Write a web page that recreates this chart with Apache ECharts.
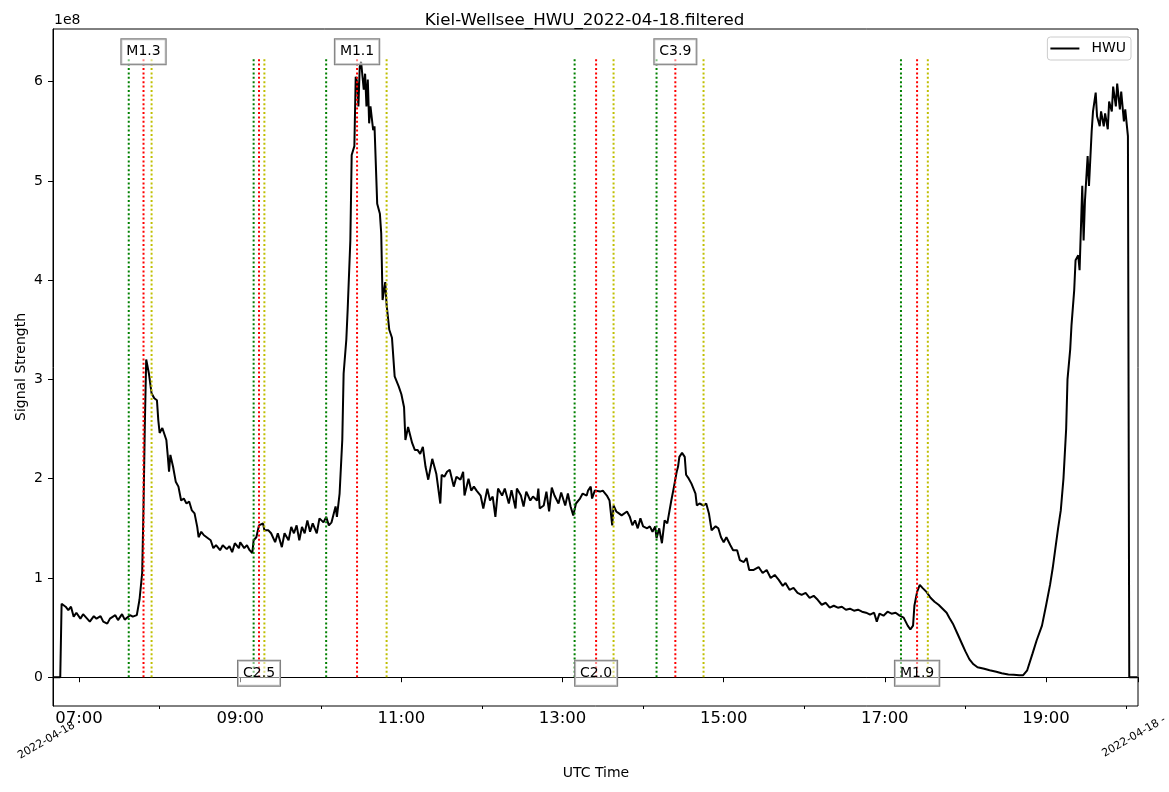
<!DOCTYPE html>
<html><head><meta charset="utf-8">
<script src="https://cdn.jsdelivr.net/npm/echarts@6/dist/echarts.min.js"></script>
<style>html,body{margin:0;padding:0;background:#fff}#c{width:1169px;height:792px}</style>
</head><body><div id="c"></div><script>
// ---- data (signal strength in units of 1e8) ----
const times = ['06:41','06:46','06:47','06:50','06:52','06:54','06:56','06:58','07:01','07:03','07:06','07:08','07:11','07:13','07:16','07:18','07:21','07:23','07:27','07:29','07:32','07:34','07:38','07:40','07:43','07:45','07:47','07:48','07:49','07:50','07:51','07:52','07:54','07:56','07:58','07:59','08:00','08:02','08:03','08:05','08:06','08:07','08:08','08:10','08:12','08:14','08:16','08:18','08:20','08:22','08:24','08:26','08:28','08:29','08:31','08:33','08:36','08:38','08:40','08:42','08:45','08:47','08:50','08:52','08:54','08:56','08:59','09:00','09:03','09:05','09:07','09:09','09:10','09:12','09:14','09:17','09:18','09:21','09:23','09:26','09:28','09:31','09:33','09:36','09:38','09:40','09:42','09:44','09:46','09:48','09:50','09:52','09:54','09:57','09:59','10:02','10:04','10:06','10:08','10:11','10:12','10:14','10:16','10:17','10:19','10:20','10:22','10:23','10:25','10:26','10:27','10:28','10:29','10:30','10:32','10:33','10:34','10:35','10:36','10:37','10:39','10:40','10:42','10:44','10:45','10:46','10:48','10:49','10:51','10:53','10:55','10:58','11:00','11:02','11:03','11:05','11:06','11:08','11:10','11:12','11:14','11:16','11:18','11:20','11:23','11:24','11:26','11:29','11:30','11:32','11:34','11:36','11:39','11:41','11:44','11:46','11:47','11:50','11:52','11:54','11:56','11:59','12:01','12:04','12:06','12:08','12:10','12:12','12:15','12:17','12:20','12:22','12:25','12:26','12:29','12:31','12:33','12:36','12:38','12:41','12:42','12:43','12:46','12:48','12:50','12:52','12:54','12:57','12:59','13:02','13:04','13:06','13:08','13:10','13:13','13:15','13:18','13:19','13:21','13:22','13:24','13:28','13:30','13:33','13:35','13:37','13:38','13:40','13:42','13:44','13:48','13:50','13:52','13:54','13:56','13:58','14:00','14:03','14:05','14:07','14:09','14:10','14:12','14:14','14:16','14:18','14:19','14:21','14:23','14:25','14:26','14:27','14:29','14:31','14:32','14:34','14:36','14:39','14:40','14:42','14:45','14:47','14:49','14:51','14:54','14:56','14:58','15:00','15:02','15:05','15:07','15:10','15:12','15:15','15:17','15:19','15:22','15:26','15:29','15:32','15:35','15:38','15:41','15:44','15:46','15:49','15:52','15:55','15:58','16:01','16:04','16:07','16:10','16:13','16:16','16:19','16:22','16:25','16:28','16:31','16:34','16:37','16:40','16:43','16:46','16:49','16:52','16:54','16:56','16:59','17:02','17:05','17:08','17:11','17:14','17:17','17:19','17:21','17:22','17:24','17:26','17:28','17:31','17:34','17:37','17:40','17:43','17:46','17:48','17:51','17:54','17:57','18:00','18:03','18:06','18:09','18:14','18:18','18:23','18:27','18:32','18:36','18:40','18:43','18:46','18:50','18:53','18:57','19:00','19:03','19:05','19:07','19:09','19:11','19:13','19:15','19:16','19:18','19:19','19:21','19:22','19:24','19:25','19:27','19:28','19:29','19:31','19:32','19:34','19:35','19:37','19:38','19:40','19:41','19:43','19:44','19:46','19:47','19:49','19:50','19:52','19:53','19:55','19:56','19:58','19:59','20:01','20:02','20:08'];
const hwu = [0,0,0.74,0.71,0.675,0.71,0.61,0.65,0.59,0.635,0.59,0.56,0.615,0.59,0.615,0.56,0.54,0.59,0.625,0.575,0.635,0.58,0.625,0.61,0.625,0.78,1.05,1.72,2.56,3.20,3.21,3.06,2.86,2.81,2.79,2.59,2.46,2.51,2.49,2.39,2.24,2.07,2.24,2.12,1.97,1.92,1.78,1.80,1.75,1.77,1.68,1.65,1.515,1.41,1.465,1.43,1.40,1.38,1.30,1.33,1.28,1.33,1.29,1.32,1.26,1.35,1.30,1.36,1.30,1.33,1.28,1.25,1.38,1.41,1.53,1.55,1.48,1.48,1.45,1.36,1.45,1.31,1.45,1.38,1.515,1.45,1.53,1.38,1.515,1.45,1.58,1.465,1.55,1.45,1.60,1.56,1.615,1.53,1.56,1.72,1.615,1.85,2.39,3.06,3.40,3.7,4.40,5.26,5.35,6.05,6.0,5.75,6.15,6.20,5.92,6.08,5.75,6.02,5.58,5.75,5.51,5.55,4.77,4.67,4.47,3.8,3.98,3.75,3.5,3.42,3.03,2.93,2.85,2.72,2.39,2.52,2.54,2.36,2.29,2.29,2.25,2.32,2.12,1.99,2.20,2.20,2.05,1.75,2.04,2.02,2.07,2.09,1.92,2.02,1.99,2.07,1.83,2.00,1.88,1.92,1.88,1.83,1.70,1.90,1.78,1.82,1.615,1.90,1.83,1.90,1.75,1.885,1.70,1.90,1.83,1.72,1.87,1.78,1.82,1.78,1.90,1.70,1.73,1.87,1.67,1.91,1.83,1.75,1.86,1.73,1.85,1.72,1.63,1.75,1.80,1.85,1.83,1.88,1.92,1.80,1.88,1.87,1.88,1.83,1.78,1.53,1.73,1.67,1.65,1.63,1.67,1.62,1.53,1.58,1.50,1.60,1.52,1.50,1.52,1.465,1.52,1.40,1.50,1.35,1.58,1.55,1.57,1.78,1.92,2.07,2.12,2.22,2.26,2.22,2.04,2.00,1.95,1.85,1.73,1.75,1.73,1.75,1.65,1.48,1.52,1.50,1.41,1.36,1.41,1.33,1.28,1.28,1.18,1.16,1.20,1.08,1.08,1.11,1.05,1.08,1.00,1.03,0.98,0.92,0.95,0.88,0.90,0.85,0.83,0.85,0.80,0.82,0.78,0.73,0.75,0.70,0.72,0.70,0.71,0.68,0.69,0.67,0.68,0.66,0.65,0.63,0.65,0.56,0.64,0.62,0.66,0.64,0.65,0.62,0.60,0.52,0.48,0.52,0.72,0.86,0.93,0.90,0.86,0.80,0.76,0.73,0.69,0.65,0.60,0.53,0.44,0.35,0.26,0.18,0.13,0.10,0.085,0.07,0.055,0.04,0.028,0.025,0.02,0.02,0.07,0.24,0.37,0.52,0.72,0.93,1.10,1.30,1.50,1.68,2.00,2.50,3.00,3.30,3.55,3.90,4.20,4.25,4.10,4.95,4.40,4.80,5.25,4.95,5.50,5.70,5.89,5.65,5.55,5.70,5.55,5.68,5.52,5.80,5.70,5.95,5.75,5.98,5.72,5.90,5.60,5.72,5.45,0,0];

const flareClasses = ['M1.3','C2.5','M1.1','C2.0','C3.9','M1.9'];
const flareStart = ['07:37','09:10','10:04','13:09','14:10','17:12'];
const flarePeak  = ['07:48','09:14','10:27','13:25','14:24','17:24'];
const flareEnd   = ['07:54','09:18','10:49','13:38','14:45','17:32'];
const labelOnTop = [true,false,true,false,true,false];
const flareLineTop = 6.25;
const labelTopValue = 6.30;
const labelBottomValue = 0.04;

const xMajorLabels = ['07:00','09:00','11:00','13:00','15:00','17:00','19:00'];
const xMinorTicks  = ['08:00','10:00','12:00','14:00','16:00','18:00','20:00'];
const yTicks = [0,1,2,3,4,5,6];
const xRange = ['06:40.6','20:08.5'];
const yRange = [-0.29, 6.53];
const dateLabels = ['2022-04-18','2022-04-18 -'];

// ---- helpers ----
function toH(s){const p=s.split(':');return +p[0]+(+p[1])/60;}
function fmt(v){const h=Math.floor(v+1e-9);const m=Math.round((v-h)*60);return String(h).padStart(2,'0')+':'+String(m).padStart(2,'0');}
const xMin = toH(xRange[0]), xMax = toH(xRange[1]);
const FONT = 'DejaVu Sans';

const series = [{
  name:'HWU', type:'line', data: times.map((t,i)=>[toH(t), hwu[i]]),
  showSymbol:false, symbol:'none', z:3,
  lineStyle:{color:'#000', width:2}, itemStyle:{color:'#000'}, silent:true
}];
const lineSets = [[flareStart,'#008000'],[flarePeak,'#ff0000'],[flareEnd,'#bfbf00']];
flareClasses.forEach((c,i)=>{
  lineSets.forEach(([arr,col])=>{
    series.push({type:'line', data:[[toH(arr[i]),0],[toH(arr[i]),flareLineTop]], symbol:'none', z:4, silent:true,
      lineStyle:{color:col, width:2, type:[2,2.4]}});
  });
});
series.push({type:'scatter', z:10, silent:true, symbolSize:1, itemStyle:{color:'rgba(0,0,0,0)'},
  data: flareClasses.map((c,i)=>({value:[toH(flarePeak[i]), labelOnTop[i]?labelTopValue:labelBottomValue], name:c})),
  label:{show:true, position:'inside', formatter:p=>p.name, fontFamily:FONT, fontSize:14, color:'#000', opacity:1,
    textBorderWidth:0, textBorderColor:'transparent', textShadowBlur:0,
    backgroundColor:'rgba(255,255,255,0.5)', borderColor:'#7f7f7f', borderWidth:1, padding:[5,5,5,5], lineHeight:15}
});

const chart = echarts.init(document.getElementById('c'));
chart.setOption({
  animation:false,
  backgroundColor:'#fff',
  title:{text:'Kiel-Wellsee_HWU_2022-04-18.filtered', left:'center', top:12, padding:0,
    textStyle:{fontFamily:FONT, fontSize:16.7, fontWeight:'normal', color:'#000'}},
  legend:{data:[{name:'HWU', icon:'rect'}], right:38, top:37, itemWidth:29, itemHeight:2, borderColor:'#cccccc', borderWidth:1, borderRadius:3,
    padding:[4,5,4,3], backgroundColor:'rgba(255,255,255,0.8)',
    textStyle:{fontFamily:FONT, fontSize:14, color:'#000', padding:[0,0,0,7], lineHeight:15}},
  grid:{left:53, right:31, top:29, bottom:86, show:true, borderColor:'#000', borderWidth:1, backgroundColor:'transparent'},
  xAxis:[{
    type:'value', min:xMin, max:xMax, position:'bottom',
    axisLine:{show:true, lineStyle:{color:'#000', width:1}},
    axisTick:{show:true, length:5, lineStyle:{color:'#000'}, customValues:[xMin].concat(xMajorLabels.map(toH), [xMax])},
    axisLabel:{show:true, customValues:xMajorLabels.map(toH), formatter:fmt, fontFamily:FONT, fontSize:16.5, color:'#000', margin:4},
    splitLine:{show:false}
  },{
    type:'value', min:xMin, max:xMax, position:'bottom',
    axisLine:{show:false},
    axisTick:{show:true, length:3, lineStyle:{color:'#000'}, customValues:xMinorTicks.map(toH)},
    axisLabel:{show:false}, splitLine:{show:false}
  }],
  yAxis:{type:'value', min:yRange[0], max:yRange[1],
    axisLine:{show:true, lineStyle:{color:'#000', width:1}},
    axisTick:{show:true, length:5, lineStyle:{color:'#000'}, customValues:yTicks},
    axisLabel:{show:true, customValues:yTicks, formatter:v=>String(Math.round(v)), fontFamily:FONT, fontSize:14, color:'#000', margin:10},
    splitLine:{show:false}
  },
  graphic:[
    {type:'text', x:54, y:20, style:{text:'1e8', font:'14px "DejaVu Sans"', fill:'#000', align:'left', verticalAlign:'middle', textAlign:'left', textVerticalAlign:'middle'}},
    {type:'text', x:21, y:367, rotation:Math.PI/2, style:{text:'Signal Strength', font:'14px "DejaVu Sans"', fill:'#000', align:'center', verticalAlign:'middle', textAlign:'center', textVerticalAlign:'middle'}},
    {type:'text', x:596, y:773, style:{text:'UTC Time', font:'14px "DejaVu Sans"', fill:'#000', align:'center', verticalAlign:'middle', textAlign:'center', textVerticalAlign:'middle'}},
    {type:'text', x:46.5, y:740.5, rotation:Math.PI/6, style:{text:dateLabels[0], font:'11px "DejaVu Sans"', fill:'#000', align:'center', verticalAlign:'middle', textAlign:'center', textVerticalAlign:'middle'}},
    {type:'text', x:1103, y:754.5, rotation:Math.PI/6, style:{text:dateLabels[1], font:'11px "DejaVu Sans"', fill:'#000', align:'left', verticalAlign:'middle', textAlign:'left', textVerticalAlign:'middle'}}
  ],
  series:series
});
</script></body></html>
